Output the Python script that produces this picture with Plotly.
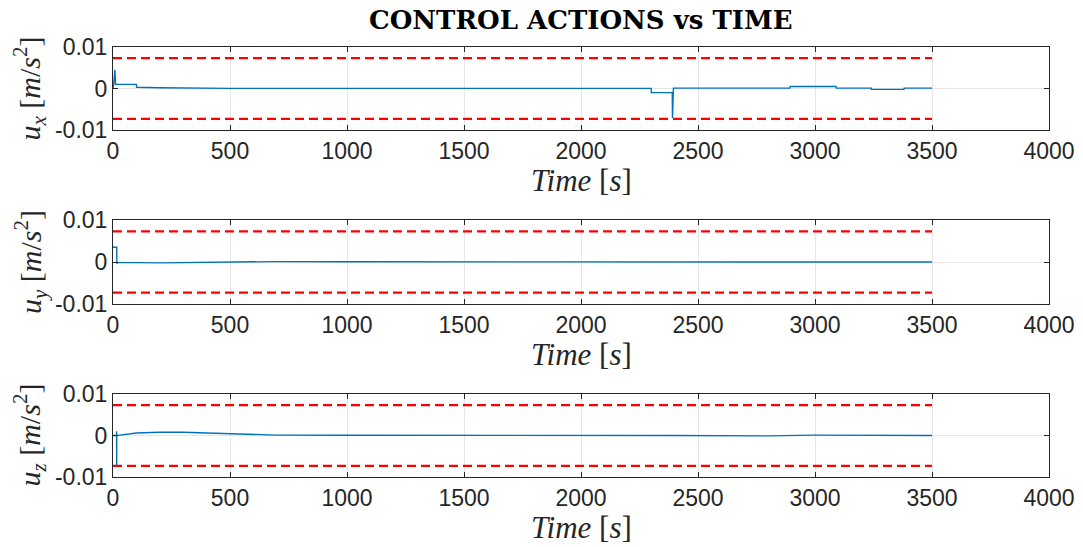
import plotly.graph_objects as go

# ---- data ----
ux_t = [0, 3, 8, 11, 100, 100.5, 200, 300, 500, 2300, 2300.5, 2390, 2391, 2395, 2893, 2894, 3090, 3091, 3240, 3241, 3380, 3381, 3500]
ux_v = [0, 0.001, 0.0045, 0.001, 0.001, 0.0003, 0.00018, 0.0001, 0.00002, 0.00002, -0.001, -0.001, -0.0071, 0.0001, 0.0001, 0.0005, 0.0005, 0.0001, 0.0001, -0.0002, -0.0002, 0.0001, 0.0001]

uy_t = [0, 16, 16.5, 20, 200, 400, 700, 1000, 2000, 3500]
uy_v = [0.0035, 0.0035, -0.0004, -0.0001, -0.0002, -0.0001, 0.0001, 0.00005, 0.0, 0.0]

uz_t = [0, 15, 15.5, 15.6, 16, 30, 100, 200, 300, 400, 500, 700, 1000, 2300, 2400, 2800, 3000, 3500]
uz_v = [0, 0, 0.001, -0.0071, 0, 0.0001, 0.0006, 0.0008, 0.0008, 0.0006, 0.0004, 0.0001, 0.00005, 0.0001, 0.0, -0.0001, 0.0001, 0.0]

lim_t = [0, 3500]
lim_hi = [0.0073, 0.0073]
lim_lo = [-0.0073, -0.0073]

x_ticks = [0, 500, 1000, 1500, 2000, 2500, 3000, 3500, 4000]
y_ticks = [-0.01, 0, 0.01]
y_tick_text = ["-0.01", "0", "0.01"]

title_text = "<b>CONTROL ACTIONS vs TIME</b>"
xlabel = "<i>Time</i> [<i>s</i>]"
ylabels = [
    "<i>u</i><sub><i>x</i></sub> [<i>m</i>/<i>s</i><sup>2</sup>]",
    "<i>u</i><sub><i>y</i></sub> [<i>m</i>/<i>s</i><sup>2</sup>]",
    "<i>u</i><sub><i>z</i></sub> [<i>m</i>/<i>s</i><sup>2</sup>]",
]

W, H = 1083, 547
x0, x1 = 113 / W, 1049 / W
doms = [(1 - 130 / H, 1 - 47 / H), (1 - 304 / H, 1 - 220 / H), (1 - 477 / H, 1 - 394 / H)]

fig = go.Figure()
series = [(ux_t, ux_v), (uy_t, uy_v), (uz_t, uz_v)]
axc = "#262626"
tickfont = dict(family="Liberation Sans, Arial", size=23, color=axc)

for i, (t, v) in enumerate(series):
    xa = "x" if i == 0 else f"x{i+1}"
    ya = "y" if i == 0 else f"y{i+1}"
    fig.add_trace(go.Scatter(x=lim_t, y=lim_hi, mode="lines", xaxis=xa, yaxis=ya,
                             line=dict(color="#FF0000", width=2.2, dash="9px,5px"), showlegend=False))
    fig.add_trace(go.Scatter(x=lim_t, y=lim_lo, mode="lines", xaxis=xa, yaxis=ya,
                             line=dict(color="#FF0000", width=2.2, dash="9px,5px"), showlegend=False))
    fig.add_trace(go.Scatter(x=t, y=v, mode="lines", xaxis=xa, yaxis=ya,
                             line=dict(color="#0072BD", width=1.4), showlegend=False))
    xkey = "xaxis" if i == 0 else f"xaxis{i+1}"
    ykey = "yaxis" if i == 0 else f"yaxis{i+1}"
    fig.layout[xkey] = dict(
        domain=[x0, x1], anchor=ya, range=[0, 4000], tickvals=x_ticks, automargin=False,
        showline=True, linecolor=axc, linewidth=1, mirror="ticks",
        ticks="inside", ticklen=5, tickcolor=axc, tickfont=tickfont,
        showgrid=True, gridcolor="#E6E6E6", zeroline=False,
    )
    fig.layout[ykey] = dict(
        domain=list(doms[i]), anchor=xa, range=[-0.01, 0.01], tickvals=y_ticks, ticktext=y_tick_text,
        automargin=False,
        showline=True, linecolor=axc, linewidth=1, mirror="ticks",
        ticks="inside", ticklen=5, tickcolor=axc, tickfont=tickfont,
        showgrid=True, gridcolor="#E6E6E6", zeroline=False,
    )
    # x label
    fig.add_annotation(text=xlabel, xref="paper", yref="paper",
                       x=(x0 + x1) / 2, y=doms[i][0] - 50 / H, xanchor="center", yanchor="middle",
                       showarrow=False, font=dict(family="Liberation Serif", size=31, color=axc))
    # y label
    fig.add_annotation(text=ylabels[i], xref="paper", yref="paper",
                       x=30 / W, y=(doms[i][0] + doms[i][1]) / 2, xanchor="center", yanchor="middle",
                       textangle=-90, showarrow=False, font=dict(family="Liberation Serif", size=30, color=axc))

fig.add_annotation(text=title_text, xref="paper", yref="paper",
                   x=(x0 + x1) / 2, y=1 - 20 / H, xanchor="center", yanchor="middle",
                   showarrow=False, font=dict(family="DejaVu Serif", size=26, color="#000000"))

fig.update_layout(width=W, height=H, margin=dict(l=0, r=0, t=0, b=0),
                  paper_bgcolor="white", plot_bgcolor="white")
fig.write_html("out.html")
